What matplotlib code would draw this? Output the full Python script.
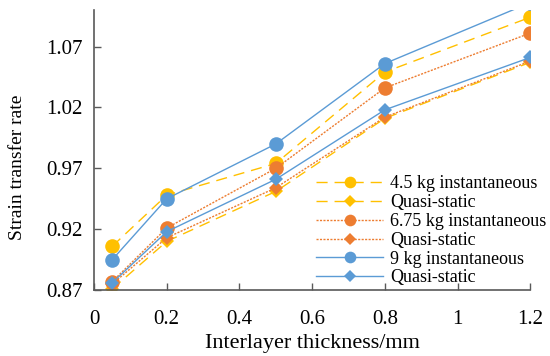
import matplotlib
matplotlib.use("Agg")
import matplotlib.pyplot as plt

thickness = [0.05, 0.2, 0.5, 0.8, 1.2]

inst_45 = [0.906, 0.948, 0.974, 1.049, 1.094]
quasi_45 = [0.871, 0.910, 0.951, 1.011, 1.057]
inst_675 = [0.877, 0.921, 0.970, 1.036, 1.081]
quasi_675 = [0.875, 0.913, 0.954, 1.012, 1.058]
inst_9 = [0.895, 0.945, 0.990, 1.056, 1.106]
quasi_9 = [0.876, 0.918, 0.961, 1.018, 1.061]

labels = ["4.5 kg instantaneous", "Quasi-static", "6.75 kg instantaneous",
          "Quasi-static", "9 kg instantaneous", "Quasi-static"]

x_ticks = [0, 0.2, 0.4, 0.6, 0.8, 1.0, 1.2]
x_tick_labels = ["0", "0.2", "0.4", "0.6", "0.8", "1", "1.2"]
y_ticks = [0.87, 0.92, 0.97, 1.02, 1.07]

YELLOW = "#FFC000"
ORANGE = "#ED7D31"
BLUE = "#5B9BD5"

plt.rcParams["font.family"] = ["Liberation Serif", "DejaVu Serif"]

fig = plt.figure(figsize=(5.5, 3.56), dpi=100)
ax = fig.add_axes([0.171, 0.185, 0.793, 0.787])

series = [
    (inst_45, YELLOW, (0, (8, 5)), "o", 10.5),
    (quasi_45, YELLOW, (0, (8, 5)), "D", 7.5),
    (inst_675, ORANGE, (0, (1.5, 1)), "o", 10.5),
    (quasi_675, ORANGE, (0, (1.5, 1)), "D", 7.5),
    (inst_9, BLUE, "-", "o", 10.5),
    (quasi_9, BLUE, "-", "D", 7.5),
]

for (vals, col, ls, mk, ms), lab in zip(series, labels):
    ax.plot(thickness, vals, color=col, linestyle=ls, linewidth=1.0,
            marker=mk, markersize=ms, markeredgewidth=0, label=lab)

ax.set_xlim(0, 1.2)
ax.set_ylim(0.87, 1.10)
ax.set_xticks(x_ticks)
ax.set_xticklabels(x_tick_labels)
ax.set_yticks(y_ticks)
ax.set_yticklabels([f"{v:.2f}" for v in y_ticks])

for s in ["top", "right"]:
    ax.spines[s].set_visible(False)
for s in ["left", "bottom"]:
    ax.spines[s].set_color("#595959")
    ax.spines[s].set_linewidth(1.2)

ax.tick_params(direction="in", length=5, width=1.0, color="#595959",
               labelsize=15)
ax.tick_params(axis="x", pad=14)
ax.tick_params(axis="y", pad=8)

ax.set_xlabel("Interlayer thickness/mm", fontsize=16)
ax.set_ylabel("Strain transfer rate", fontsize=14)
ax.xaxis.set_label_coords(0.5, -0.155)
ax.yaxis.set_label_coords(-0.156, 0.44)

ax.legend(loc="lower right", bbox_to_anchor=(1.075, -0.045), frameon=False,
          fontsize=13, handlelength=3.7, handletextpad=0.4,
          labelspacing=0.1, markerscale=0.8)

fig.savefig("out.png", dpi=100)
